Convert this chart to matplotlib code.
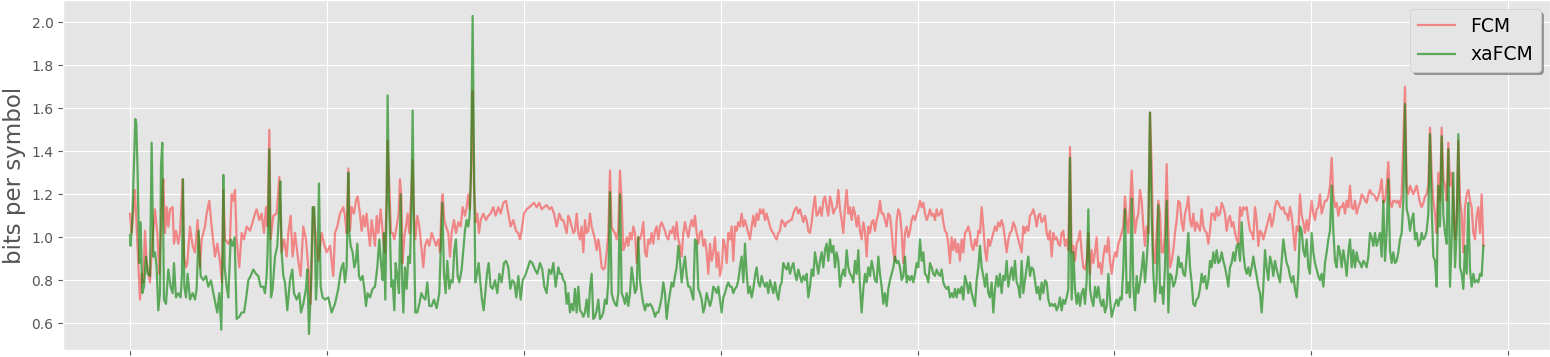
import numpy as np
import matplotlib
matplotlib.use("Agg")
import matplotlib.pyplot as plt

# ---------------- data ----------------
# irregularly read first part (symbol position, bits per symbol)
fcm_x_early = [0,2,5,15,30,35,40,45,50,60,65,75,82,88,96,100,105,110,115,120,
               128,132,138,145,150,158,162,168,172,180,188,195,203,210,215,225,230,238,245,255,
               262,270,276,280,285,295,300,305,310,315,320,328,335,342,350,360,368,375,380,388,
               395,402,408,413,418,422,430,440,448,455,462,470,475,482,488,495,505,512,520,528,
               535,542,550,558,565,575,582,590,600,610,615,622,630,
               640,645,650,655,660,665,672,678,683,690,695,700,705,710,715,720,725,730,735,740,
               745,752,760,765,770,773,778,783,788,793,800,806,810,814,818,823,828,833,838,843,
               848,852,856,862,868,875,880,885,892,898,905,912,918,925,930,935,938,943,948,955,
               960,965,972,978,985,992,998,1005,1010,1015,1020,1025,1028,1032,1037,1042,1047,1052,1060,1068,
               1075,1082,1090,1097,1105,1112,1120,1128,1135,1142,1150,1158,1165,1170,1175,1182,1190,1198,1205,1212,
               1220,1228,1235,1242,1250,1258,1265,1272,1280,1288]
fcm_y_early = [1.11,1.07,1.02,1.22,0.71,0.83,0.79,1.03,0.89,0.79,0.93,1.13,1.02,0.83,1.17,1.27,1.02,1.14,1.05,1.13,
               1.14,0.97,1.03,0.97,1.02,1.27,0.91,0.86,0.88,1.05,0.96,0.93,1.08,0.86,0.99,1.05,1.11,1.17,1.05,0.91,
               0.97,0.89,0.79,1.22,0.99,0.97,0.99,1.20,1.17,1.22,0.99,0.86,1.02,0.99,1.05,1.03,1.07,1.11,1.13,1.08,
               1.11,1.02,1.14,1.05,1.50,0.99,1.10,1.11,1.28,0.93,0.99,0.91,1.02,1.10,0.91,1.02,0.89,0.82,1.05,0.99,
               0.86,0.69,1.14,0.99,0.89,1.02,0.97,0.93,0.96,0.82,1.02,1.05,1.11,
               1.14,1.10,1.02,1.32,1.03,1.14,1.11,1.17,1.19,1.11,1.03,1.10,1.05,1.11,1.03,0.96,1.08,1.02,0.96,1.10,
               1.02,1.13,0.99,0.93,1.17,1.45,1.24,1.02,1.02,0.99,1.05,1.11,1.27,1.19,0.88,1.00,1.05,1.11,1.02,1.17,
               1.36,1.11,0.99,1.10,1.05,0.94,0.86,0.96,0.99,0.96,1.02,0.99,0.96,0.99,0.93,1.16,1.20,1.08,1.05,1.02,
               0.91,1.02,1.08,1.02,1.07,1.05,1.14,1.10,1.14,1.20,1.13,1.42,1.68,1.24,1.07,1.11,1.02,1.08,1.11,1.08,
               1.10,1.11,1.14,1.10,1.14,1.11,1.16,1.17,1.11,1.05,1.08,1.03,1.02,0.99,1.03,1.11,1.13,1.14,1.15,1.16,
               1.14,1.16,1.13,1.14,1.15,1.13,1.14,1.11,1.05,1.11]

xa_x_early = [0,2,7,13,16,19,23,28,32,37,42,48,53,60,65,70,75,80,85,90,
              93,97,102,108,115,122,128,132,138,145,152,156,159,163,168,173,180,188,195,200,
              206,212,220,228,235,243,250,258,262,268,274,278,280,284,290,295,302,308,314,320,
              328,335,342,348,355,362,370,378,385,392,400,405,410,413,418,423,428,435,442,448,
              451,455,460,465,472,480,487,492,500,508,513,520,528,532,537,543,548,553,558,562,
              567,572,578,585,595,605,615,625,630,
              635,640,645,650,655,658,662,668,673,678,682,687,692,698,703,708,713,720,728,735,
              742,748,753,758,762,766,770,773,777,780,784,788,793,797,802,807,812,816,820,825,
              830,835,840,844,848,852,856,862,868,874,880,886,892,898,905,912,920,928,933,937,
              942,947,952,958,963,968,973,978,983,988,995,1000,1005,1010,1015,1019,1023,1028,1032,1036,
              1041,1046,1051,1056,1061,1066,1071,1076,1082,1088,1095,1102,1108,1115,1122,1128,1135,1141,1147,1153,
              1159,1165,1172,1178,1185,1192,1200,1207,1215,1222,1230,1237,1243,1250,1257,1264,1270,1277,1285,1290]
xa_y_early = [1.01,0.96,1.08,1.39,1.55,1.53,1.30,0.88,1.07,0.74,0.77,0.91,0.83,0.82,1.44,0.91,0.93,0.86,0.66,0.74,
              1.33,1.44,0.71,0.69,0.85,0.77,0.74,0.88,0.72,0.74,0.72,0.83,1.27,0.77,0.72,0.83,0.71,0.74,0.71,0.76,
              1.03,0.82,0.80,0.82,0.77,0.80,0.74,0.68,0.65,0.74,0.57,0.93,1.29,0.86,0.77,0.72,0.99,0.96,1.00,0.62,
              0.63,0.65,0.65,0.71,0.80,0.82,0.85,0.83,0.82,0.77,0.77,0.74,0.82,0.94,1.41,0.72,0.76,0.91,0.96,1.14,
              1.26,0.93,0.82,0.79,0.66,0.80,0.85,0.74,0.71,0.74,0.65,0.69,0.76,0.85,0.55,0.77,1.14,1.14,0.71,0.82,
              1.25,0.77,0.72,0.71,0.72,0.65,0.69,0.76,0.82,
              0.86,0.88,0.79,0.86,1.30,1.02,0.96,0.93,0.86,0.89,0.97,0.82,0.80,0.82,0.76,0.68,0.74,0.72,0.76,0.77,
              0.86,0.99,0.88,0.80,1.02,0.71,1.17,1.66,1.17,1.02,0.77,0.80,0.66,0.88,0.82,0.74,1.20,0.82,0.65,0.86,
              0.76,0.91,0.88,1.11,1.59,1.02,0.65,0.65,0.69,0.74,0.72,0.71,0.79,0.68,0.68,0.71,0.67,0.74,0.97,1.16,
              0.83,0.74,0.89,0.76,0.80,0.79,0.94,0.99,0.82,0.79,0.85,0.94,1.03,1.08,1.05,1.10,1.30,2.03,1.36,0.79,
              0.83,0.88,0.79,0.71,0.66,0.74,0.83,0.88,0.77,0.76,0.80,0.74,0.83,0.79,0.88,0.89,0.86,0.76,0.80,0.79,
              0.72,0.82,0.71,0.80,0.82,0.85,0.89,0.88,0.85,0.83,0.88,0.85,0.77,0.74,0.85,0.83,0.88,0.77,0.86,0.83]

# regularly read remaining part: starts at position 1295, one value every 5 positions
LATE_START = 1295
LATE_STEP = 5
fcm_y_late = [
    1.08,1.08,1.05,1.02,1.10,1.08,1.05,1.02,1.03,1.11,1.02,0.99,1.05,0.93,1.08,1.02,1.03,1.11,1.05,1.02,
    0.99,0.94,0.99,0.94,0.86,0.85,0.86,0.93,1.02,1.31,1.05,1.03,1.02,0.99,1.03,1.31,1.17,0.94,0.96,1.00,
    0.96,1.02,0.99,1.05,1.02,0.88,1.00,0.99,1.02,1.07,0.93,0.91,0.99,0.97,1.02,0.97,1.03,1.05,0.99,1.05,
    1.07,1.05,1.03,1.00,0.99,1.03,1.02,1.05,0.99,1.07,0.99,0.96,0.91,1.02,1.07,1.03,1.00,1.05,1.08,1.05,
    1.10,1.02,0.97,1.02,1.03,0.96,0.99,0.93,0.83,0.97,0.89,0.93,1.00,0.86,0.93,0.82,0.86,0.99,0.96,0.88,
    1.02,0.99,1.05,0.89,1.05,1.03,1.07,1.05,1.11,1.05,1.08,1.05,1.02,0.99,1.05,1.10,1.05,1.11,1.08,1.13,
    1.11,1.13,1.08,1.11,1.08,1.05,1.03,1.02,1.00,0.99,1.02,1.03,1.08,1.07,1.05,1.07,1.07,1.08,
    1.08,1.11,1.13,1.14,1.11,1.13,1.10,1.07,1.10,1.08,1.03,1.02,1.07,1.14,1.19,1.10,1.11,1.14,1.10,1.17,
    1.19,1.14,1.10,1.19,1.16,1.11,1.13,1.14,1.22,1.13,1.08,1.02,1.14,1.22,1.11,1.14,1.08,1.14,1.11,1.05,
    1.10,1.03,0.99,1.07,1.03,0.91,1.05,1.02,1.07,1.08,1.03,1.08,1.11,1.17,1.11,1.11,1.08,1.05,1.11,1.10,
    1.03,0.93,0.89,1.08,1.13,1.11,1.02,0.88,1.02,1.05,1.00,1.03,1.08,1.10,1.08,1.11,1.13,1.17,1.14,1.16,
    1.11,1.08,1.10,1.13,1.10,1.11,1.08,1.13,1.10,1.11,1.13,1.07,1.03,1.02,0.97,0.88,1.00,0.94,0.99,0.93,
    0.97,0.89,0.99,0.93,1.02,1.03,1.05,1.02,0.96,0.94,0.99,0.96,1.03,1.02,1.14,1.05,0.94,0.89,0.99,0.96,
    0.99,1.02,1.05,1.03,1.07,1.05,1.08,1.05,0.99,0.93,0.99,1.02,1.03,1.07,1.05,1.02,0.99,0.96,
    0.93,1.05,1.02,1.05,1.03,1.10,1.11,1.13,1.10,1.05,1.10,1.11,1.07,1.08,1.10,1.02,0.99,1.03,0.91,1.02,
    0.99,1.00,0.97,0.96,1.02,1.03,0.96,0.99,0.94,1.42,0.93,0.96,0.89,0.97,0.99,1.03,0.93,0.86,0.85,0.89,
    1.02,0.83,0.94,0.88,0.93,1.00,0.86,0.88,0.83,0.91,0.96,0.93,1.00,0.89,0.83,0.89,0.93,0.91,0.97,0.99,
    1.02,1.05,1.19,1.08,1.02,1.14,1.31,1.14,1.02,1.08,1.11,1.22,1.17,1.05,0.96,1.05,1.02,1.58,1.33,0.93,
    0.88,1.02,1.17,1.11,0.93,0.93,1.02,1.34,1.02,0.86,0.89,0.94,1.02,1.08,1.17,1.16,1.07,1.03,1.11,1.14,
    1.19,1.08,1.05,1.11,1.03,1.07,1.05,1.03,1.13,1.05,1.03,1.02,0.97,1.03,1.11,1.11,1.08,1.14,1.10,1.11,
    1.16,1.14,1.11,1.03,1.08,1.10,1.05,1.07,1.02,0.99,0.97,1.14,1.10,1.14,1.13,1.14,1.08,1.03,
    1.02,0.99,1.14,1.08,0.96,1.03,1.02,0.99,1.02,1.05,1.08,1.11,1.05,1.08,1.14,1.17,1.16,1.14,1.13,1.14,
    1.11,1.11,1.08,1.14,1.10,1.02,0.94,1.05,1.03,1.20,1.10,1.07,1.02,1.08,1.03,1.10,1.17,1.11,1.08,1.13,
    1.14,1.20,1.11,1.14,1.17,1.17,1.19,1.24,1.37,1.20,1.14,1.16,1.10,1.14,1.14,1.16,1.11,1.17,1.14,1.24,
    1.14,1.13,1.17,1.11,1.14,1.16,1.20,1.19,1.17,1.16,1.20,1.22,1.20,1.20,1.19,1.17,1.19,1.22,1.27,1.16,
    1.17,1.24,1.35,1.17,1.14,1.17,1.17,1.16,1.17,1.14,1.20,1.45,1.70,1.24,1.20,1.24,1.22,1.20,1.22,1.24,
    1.20,1.16,1.14,1.16,1.19,1.20,1.24,1.51,1.30,1.17,1.11,1.02,1.30,1.17,1.51,1.27,1.24,1.17,1.44,1.24,
    1.30,1.14,0.99,1.11,1.45,1.17,1.11,0.93,1.14,1.20,1.22,1.17,1.14,1.02,0.99,1.10,1.14,1.02,1.20,0.96]

xa_y_late = [
    0.83,0.80,0.79,0.69,0.74,0.65,0.69,0.66,0.76,0.65,0.77,0.66,0.65,0.63,0.65,0.71,0.63,0.76,0.83,0.62,
    0.63,0.66,0.71,0.62,0.63,0.65,0.71,0.69,0.79,1.21,0.74,0.71,0.69,0.68,0.74,1.20,0.74,0.72,0.69,0.74,
    0.68,0.74,0.86,0.80,0.74,0.76,1.00,0.80,0.74,0.69,0.66,0.69,0.68,0.69,0.68,0.66,0.63,0.65,0.65,0.68,
    0.72,0.79,0.74,0.62,0.69,0.74,0.79,0.77,0.82,0.86,0.96,0.89,0.79,0.86,0.91,0.82,0.77,0.77,0.74,0.71,
    0.99,0.98,0.76,0.74,0.71,0.65,0.68,0.74,0.71,0.68,0.71,0.77,0.76,0.74,0.77,0.71,0.65,0.72,0.74,0.77,
    0.79,0.77,0.77,0.74,0.76,0.77,0.80,0.86,0.91,0.79,0.97,0.83,0.74,0.77,0.72,0.76,0.82,0.86,0.79,0.77,
    0.82,0.79,0.77,0.79,0.74,0.80,0.77,0.74,0.79,0.74,0.71,0.77,0.79,0.88,0.86,0.85,0.88,0.83,
    0.86,0.88,0.83,0.80,0.85,0.82,0.79,0.82,0.80,0.83,0.72,0.77,0.85,0.82,0.93,0.88,0.83,0.89,0.93,0.86,
    0.94,0.97,0.89,0.99,0.93,0.96,0.86,0.93,0.89,0.77,0.82,0.85,0.82,0.94,0.86,0.83,0.82,0.79,0.89,0.83,
    0.94,0.77,0.65,0.76,0.83,0.79,0.86,0.82,0.89,0.85,0.80,0.79,0.91,0.83,0.77,0.69,0.74,0.68,0.76,0.80,
    0.83,0.86,0.91,0.88,0.89,0.86,0.80,0.82,0.91,0.79,0.82,0.80,0.82,0.79,0.83,0.88,0.86,0.99,0.89,0.93,
    0.83,0.82,0.79,0.88,0.86,0.83,0.82,0.85,0.83,0.82,0.85,0.79,0.77,0.76,0.77,0.72,0.74,0.72,0.76,0.72,
    0.76,0.74,0.77,0.71,0.82,0.79,0.74,0.79,0.74,0.71,0.68,0.80,0.86,0.96,0.86,0.82,0.77,0.83,0.74,0.72,
    0.79,0.65,0.76,0.82,0.77,0.83,0.74,0.82,0.80,0.89,0.77,0.82,0.86,0.80,0.89,0.79,0.77,0.72,
    0.89,0.74,0.80,0.86,0.91,0.82,0.86,0.85,0.80,0.74,0.77,0.71,0.79,0.74,0.80,0.79,0.71,0.68,0.69,0.68,
    0.69,0.66,0.68,0.72,0.66,0.71,0.69,0.72,0.76,1.37,0.71,0.93,0.76,0.69,0.74,0.68,0.74,0.76,0.69,0.80,
    1.13,0.76,0.71,0.68,0.77,0.72,0.77,0.71,0.68,0.71,0.65,0.68,0.83,0.71,0.63,0.66,0.69,0.71,0.68,0.72,
    0.71,0.86,1.13,0.74,0.79,0.72,1.18,0.77,0.66,0.82,0.74,0.79,0.85,0.93,0.79,0.89,1.02,1.58,1.10,0.83,
    0.70,0.80,1.15,0.74,0.77,0.69,0.86,1.17,0.65,0.83,0.82,0.77,0.79,0.83,0.91,0.86,0.88,0.83,0.82,0.91,
    1.02,0.86,0.79,0.69,0.68,0.71,0.72,0.76,0.83,0.79,0.82,0.76,0.80,0.89,0.86,0.93,0.88,0.94,0.88,0.89,
    0.93,0.89,0.86,0.82,0.77,0.86,0.88,0.93,0.89,0.96,0.97,0.89,1.07,0.93,0.86,0.83,0.86,0.82,
    0.86,0.91,0.86,0.82,0.77,0.74,0.65,0.77,0.94,0.86,0.80,0.91,0.88,0.82,0.89,0.85,0.82,0.79,0.89,0.99,
    0.93,0.88,0.86,0.82,0.79,0.82,0.76,0.72,0.83,1.05,1.03,0.94,0.91,0.99,0.86,0.83,1.02,0.93,0.88,0.85,
    0.82,0.80,0.83,0.77,0.88,0.93,0.99,1.03,1.24,1.03,0.89,0.86,0.96,0.93,0.86,0.94,0.89,0.82,0.93,0.99,
    0.86,0.94,0.86,0.93,0.89,0.88,0.86,0.89,0.88,0.86,0.91,1.02,1.00,0.96,1.02,0.96,0.99,1.02,0.91,1.17,
    0.89,1.02,1.27,0.94,0.88,0.93,0.88,0.89,0.93,0.99,1.02,1.17,1.62,1.13,1.10,1.03,1.08,1.11,0.99,1.02,
    0.96,0.97,1.02,0.99,1.00,1.03,1.11,1.48,1.14,0.91,0.89,0.77,1.24,1.05,1.47,1.10,1.02,0.97,1.41,0.77,
    0.99,1.30,0.86,1.02,1.48,0.86,0.83,0.76,0.96,0.83,1.16,0.85,0.77,0.83,0.79,0.80,0.79,0.83,0.82,0.96]

series_labels = ["FCM", "xaFCM"]
y_label = "bits per symbol"
y_ticks = [0.6, 0.8, 1.0, 1.2, 1.4, 1.6, 1.8, 2.0]
TICK_STEP = 590.7

# ---------------- assemble ----------------
fcm_x = np.concatenate([fcm_x_early,
                        LATE_START + LATE_STEP * np.arange(len(fcm_y_late))])
fcm_y = np.concatenate([fcm_y_early, fcm_y_late])
xa_x = np.concatenate([xa_x_early,
                       LATE_START + LATE_STEP * np.arange(len(xa_y_late))])
xa_y = np.concatenate([xa_y_early, xa_y_late])

# ---------------- plot ----------------
plt.style.use("ggplot")
W, H = 1550, 357
fig = plt.figure(figsize=(W / 100, H / 100), dpi=100)
ax = fig.add_axes([63.3 / W, 6.7 / H, 1 - 63.3 / W, 1 - 6.7 / H])

ax.plot(fcm_x, fcm_y, color="red", alpha=0.42, lw=1.6, label=series_labels[0])
ax.plot(xa_x, xa_y, color="green", alpha=0.6, lw=1.6, label=series_labels[1])

ax.set_xlim(-200, 4260)
ax.set_ylim(0.474, 2.104)
ax.set_xticks(np.arange(8) * TICK_STEP)
ax.set_xticklabels([])
ax.set_yticks(y_ticks)
ax.set_yticklabels([f"{v:.1f}" for v in y_ticks])
ax.tick_params(axis="y", labelsize=10)
ax.set_ylabel(y_label, fontsize=16.5, color="#555555")

leg = ax.legend(loc="upper right", shadow=True, fontsize=13.5, fancybox=True)

fig.savefig("out.png", dpi=100)
